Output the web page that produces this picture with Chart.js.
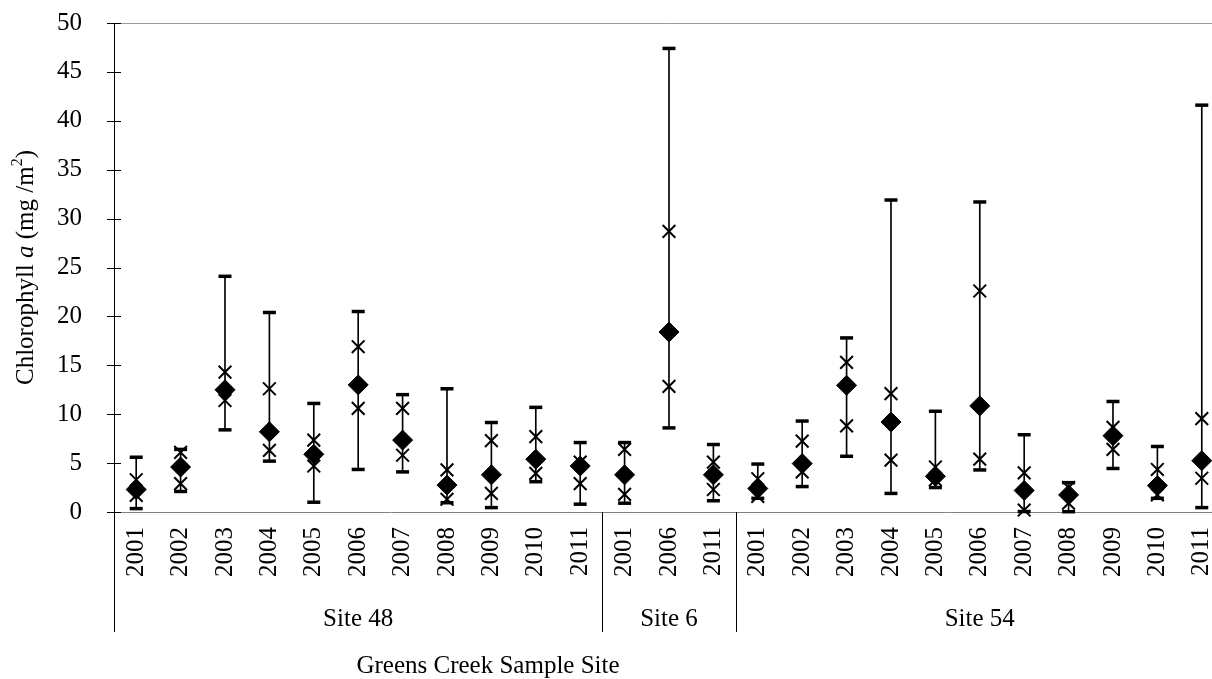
<!DOCTYPE html>
<html>
<head>
<meta charset="utf-8">
<script src="https://cdn.jsdelivr.net/npm/chart.js@4"></script>
<style>
html, body { margin: 0; padding: 0; background: #fff; overflow: hidden; }
#wrap { width: 1239px; height: 679px; }
</style>
</head>
<body>
<div id="wrap"><canvas id="chart"></canvas></div>
<script>
// categories
const years48 = ['2001', '2002', '2003', '2004', '2005', '2006', '2007', '2008', '2009', '2010', '2011'];
const years6 = ['2001', '2006', '2011'];
const years54 = ['2001', '2002', '2003', '2004', '2005', '2006', '2007', '2008', '2009', '2010', '2011'];
const siteNames = ['Site 48', 'Site 6', 'Site 54'];
const xTitle = 'Greens Creek Sample Site';

// values (mg/m2), site 48 | site 6 | site 54
const maxVals = [5.6, 6.4, 24.1, 20.4, 11.1, 20.5, 12.0, 12.6, 9.15, 10.7, 7.1,
    7.1, 47.4, 6.9,
    4.9, 9.3, 17.8, 31.9, 10.3, 31.7, 7.9, 3.0, 11.3, 6.7, 41.6];
const upperX = [3.3, 6.1, 14.3, 12.6, 7.35, 16.9, 10.6, 4.3, 7.3, 7.7, 5.1,
    6.4, 28.7, 5.1,
    3.4, 7.25, 15.3, 12.1, 4.6, 22.6, 4.0, 2.5, 8.65, 4.35, 9.55];
const means = [2.3, 4.6, 12.5, 8.2, 5.9, 13.0, 7.35, 2.75, 3.8, 5.4, 4.7,
    3.8, 18.4, 3.8,
    2.4, 4.95, 12.95, 9.2, 3.65, 10.85, 2.2, 1.75, 7.8, 2.7, 5.25];
const lowerX = [1.7, 2.9, 11.4, 6.3, 4.7, 10.6, 5.8, 1.3, 1.9, 3.95, 2.9,
    1.8, 12.85, 2.3,
    1.6, 4.1, 8.8, 5.3, 3.3, 5.4, 0.2, 0.9, 6.4, 1.75, 3.45];
const minVals = [0.35, 2.1, 8.4, 5.2, 1.0, 4.35, 4.1, 0.95, 0.45, 3.1, 0.8,
    0.9, 8.6, 1.15,
    1.4, 2.6, 5.7, 1.9, 2.5, 4.3, 0.05, 0.03, 4.45, 1.4, 0.45];

const yearLabels = [...years48, ...years6, ...years54];
const groupSizes = [years48.length, years6.length, years54.length];

// site labels sit on the middle category of each group
const siteLabels = yearLabels.map(() => '');
const groupStarts = [];
let start = 0;
groupSizes.forEach((n, g) => {
    groupStarts.push(start);
    siteLabels[start + Math.floor(n / 2)] = siteNames[g];
    start += n;
});

const serif = '"Liberation Serif", "Times New Roman", serif';
Chart.defaults.font.family = serif;
Chart.defaults.color = '#000';

const pointSet = (data, style, radius, width, order) => ({
    type: 'line',
    data: data,
    showLine: false,
    pointStyle: style,
    pointRadius: radius,
    pointHoverRadius: radius,
    pointBorderWidth: width,
    pointBorderColor: '#000',
    pointBackgroundColor: '#000',
    clip: false,
    order: order,
});

// y title with italic a and superscript 2, x title, site separators, tick marks across the axis
const extras = {
    id: 'extras',
    afterDraw(chart) {
        const ctx = chart.ctx;
        const x = chart.scales.x;
        const y = chart.scales.y;
        const area = chart.chartArea;
        ctx.save();
        ctx.strokeStyle = '#000';
        ctx.lineWidth = 1;

        y.ticks.forEach(t => {
            const py = Math.round(y.getPixelForValue(t.value)) + 0.5;
            ctx.beginPath();
            ctx.moveTo(area.left - 7, py);
            ctx.lineTo(area.left + 7, py);
            ctx.stroke();
        });

        const step = x.getPixelForValue(1) - x.getPixelForValue(0);
        groupStarts.forEach(i => {
            const px = Math.round(x.getPixelForValue(i) - step / 2) + 0.5;
            ctx.beginPath();
            ctx.moveTo(px, area.bottom);
            ctx.lineTo(px, area.bottom + 120);
            ctx.stroke();
        });

        ctx.fillStyle = '#000';
        ctx.font = 'normal 25px ' + serif;
        ctx.textAlign = 'center';
        ctx.textBaseline = 'middle';
        ctx.fillText(xTitle, area.left + 374, chart.height - 13);

        const parts = [
            ['Chlorophyll ', 'normal 25px ' + serif, 0],
            ['a', 'italic 25px ' + serif, 0],
            [' (mg /m', 'normal 25px ' + serif, 0],
            ['2', 'normal 16px ' + serif, -8],
            [')', 'normal 25px ' + serif, 0],
        ];
        let total = 0;
        parts.forEach(p => { ctx.font = p[1]; total += ctx.measureText(p[0]).width; });
        ctx.translate(26, (area.top + area.bottom) / 2);
        ctx.rotate(-Math.PI / 2);
        ctx.textAlign = 'left';
        let cx = -total / 2;
        parts.forEach(p => {
            ctx.font = p[1];
            ctx.fillText(p[0], cx, p[2]);
            cx += ctx.measureText(p[0]).width;
        });
        ctx.restore();
    }
};

new Chart(document.getElementById('chart'), {
    type: 'bar',
    data: {
        labels: yearLabels,
        datasets: [
            {
                type: 'bar',
                data: minVals.map((m, i) => [m, maxVals[i]]),
                backgroundColor: '#000',
                barThickness: 1,
                order: 10,
            },
            pointSet(maxVals, 'line', 6.5, 3.5, 5),
            pointSet(minVals, 'line', 6.5, 3.5, 5),
            pointSet(means, 'rectRot', 10, 1, 3),
            pointSet(upperX, 'crossRot', 9, 2, 1),
            pointSet(lowerX, 'crossRot', 9, 2, 1),
        ]
    },
    options: {
        responsive: true,
        maintainAspectRatio: false,
        animation: false,
        layout: { padding: { top: 23, right: 0, bottom: 0, left: 0 } },
        plugins: {
            legend: { display: false },
            tooltip: { enabled: false },
        },
        scales: {
            x: {
                position: 'bottom',
                grid: { display: false },
                border: { display: true, color: '#808080', width: 1 },
                ticks: {
                    autoSkip: false,
                    minRotation: 90,
                    maxRotation: 90,
                    padding: 7,
                    font: { size: 25 },
                },
                afterFit: s => { s.height = 80; },
            },
            site: {
                type: 'category',
                labels: siteLabels,
                position: 'bottom',
                offset: true,
                grid: { display: false },
                border: { display: false },
                ticks: {
                    autoSkip: false,
                    maxRotation: 0,
                    padding: 4,
                    font: { size: 25 },
                },
                afterFit: s => { s.height = 87; },
            },
            y: {
                min: 0,
                max: 50,
                ticks: {
                    stepSize: 5,
                    padding: 0,
                    font: { size: 25 },
                },
                grid: {
                    color: c => (c.tick && c.tick.value === 50) ? '#999' : 'rgba(0,0,0,0)',
                    tickColor: 'rgba(0,0,0,0)',
                    tickLength: 32,
                },
                border: { display: true, color: '#000', width: 1 },
                afterFit: s => { s.width = 114; },
            }
        }
    },
    plugins: [extras]
});
</script>
</body>
</html>
